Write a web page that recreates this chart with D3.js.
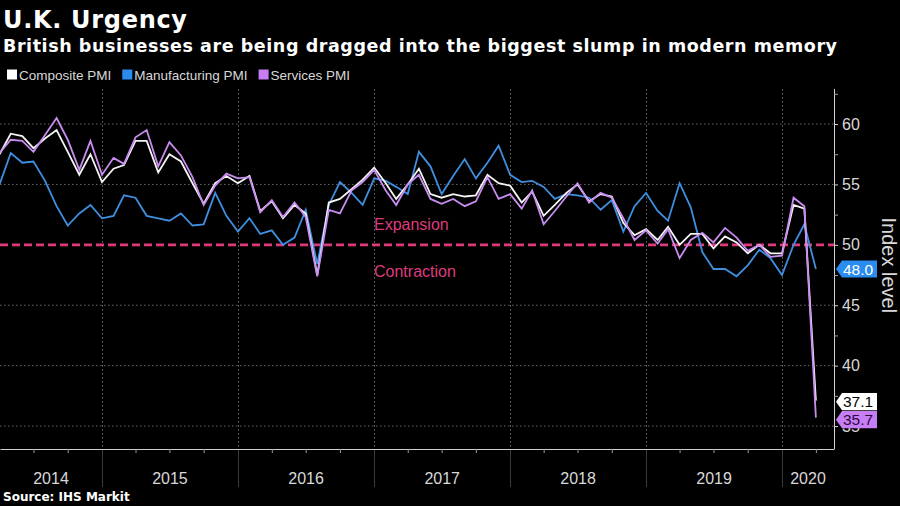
<!DOCTYPE html>
<html><head><meta charset="utf-8">
<script src="https://cdn.jsdelivr.net/npm/d3@7"></script>
<style>
html,body{margin:0;padding:0;background:#000;}
svg{display:block;}
</style></head><body>
<svg id="chart" width="900" height="506"></svg>
<script>
// ---------- DATA ----------
const firstMonth = new Date(2014, 2, 1);   // March 2014
const lastMonth  = new Date(2020, 2, 1);   // March 2020
const composite = [
  57.5, 59.2, 59.0, 58.0, 58.8, 59.5, 57.7, 55.8, 57.5, 55.2,
  56.3, 56.6, 58.6, 58.6, 56.0, 57.5, 56.9, 55.1, 53.4, 55.1,
  55.7, 55.1, 55.7, 52.8, 53.6, 52.2, 53.3, 52.6, 47.5, 53.5,
  53.8, 54.6, 55.4, 56.4, 55.1, 53.8, 55.0, 56.3, 54.2, 53.9,
  54.2, 54.0, 54.1, 55.8, 55.1, 54.9, 53.5, 54.4, 52.4, 53.3,
  54.3, 55.0, 53.6, 54.2, 54.0, 51.8, 50.8, 51.3, 50.4, 51.5,
  50.0, 50.9, 50.9, 49.7, 50.7, 50.2, 49.3, 50.0, 49.3, 49.3,
  53.3, 53.0, 37.1
];
const manufacturing = [
  55.0, 57.6, 56.8, 56.9, 55.3, 53.2, 51.6, 52.6, 53.3, 52.2,
  52.4, 54.1, 53.9, 52.4, 52.2, 52.0, 52.6, 51.6, 51.7, 54.3,
  52.4, 51.1, 52.2, 50.9, 51.2, 50.0, 50.6, 52.9, 48.4, 53.3,
  55.2, 54.3, 53.3, 55.5, 55.3, 54.8, 54.2, 57.7, 56.5, 54.2,
  55.7, 57.1, 55.5, 56.8, 58.2, 55.8, 55.2, 55.3, 54.8, 53.8,
  54.2, 54.1, 53.9, 52.9, 53.7, 51.1, 53.2, 54.3, 52.8, 52.0,
  55.1, 53.1, 49.4, 48.0, 48.0, 47.4, 48.3, 49.6, 48.9, 47.5,
  50.0, 51.7, 48.0
];
const services = [
  57.6, 58.7, 58.6, 57.7, 59.1, 60.5, 58.7, 56.2, 58.6, 55.8,
  57.2, 56.7, 58.9, 59.5, 56.5, 58.5, 57.4, 55.6, 53.3, 54.9,
  55.9, 55.5, 55.6, 52.7, 53.7, 52.3, 53.5, 52.3, 47.4, 52.9,
  52.6, 54.5, 55.2, 56.2, 54.5, 53.3, 55.0, 55.8, 53.8, 53.4,
  53.8, 53.2, 53.6, 55.6, 53.8, 54.2, 53.0, 54.5, 51.7, 52.8,
  54.0, 55.1, 53.5, 54.3, 53.9, 52.2, 50.4, 51.2, 50.1, 51.3,
  48.9, 50.4, 51.0, 50.2, 51.4, 50.6, 49.5, 50.0, 49.0, 49.1,
  53.9, 53.2, 35.7
];
const seriesNames = ["Composite PMI", "Manufacturing PMI", "Services PMI"];
const yearLabels = ["2014", "2015", "2016", "2017", "2018", "2019", "2020"];
const yMajorTicks = [35, 40, 45, 50, 55, 60];
const yMinorTicks = [37.5, 42.5, 47.5, 52.5, 57.5, 62.5];
const thresholdValue = 50;
const titleText = "U.K. Urgency";
const subtitleText = "British businesses are being dragged into the biggest slump in modern memory";
const sourceText = "Source: IHS Markit";
const yAxisTitle = "Index level";

// ---------- STYLE ----------
const colors = { composite: "#f4f4f4", manufacturing: "#3f8fe0", services: "#c98cf0" };
const legendColors = ["#ffffff", "#2b8cf0", "#c77ef5"];
const labelFill = ["#ffffff", "#2b8cf0", "#c77ef5"];
const labelText = ["#000000", "#ffffff", "#2b0a3d"];
const pink = "#de3b7d";

const svg = d3.select("#chart");
svg.append("rect").attr("width", 900).attr("height", 506).attr("fill", "#000");

const plotL = 0, plotR = 834, plotT = 89, plotB = 449;

const xRef = d3.scaleTime().domain([new Date(2015,0,1), new Date(2020,0,1)]).range([102, 782]);
const x = d3.scaleTime().domain([xRef.invert(plotL), xRef.invert(plotR)]).range([plotL, plotR]);
const y = d3.scaleLinear().domain([33.1, 62.9]).range([plotB, plotT]);

const months = d3.timeMonth.range(firstMonth, d3.timeMonth.offset(lastMonth, 1));
const pointDate = m => d3.timeMonth.offset(m, 1); // plotted at month end

// ---------- GRID ----------
const grid = svg.append("g");
grid.selectAll("line.h").data(yMajorTicks.filter(v => v !== thresholdValue)).join("line")
  .attr("x1", plotL).attr("x2", plotR)
  .attr("y1", d => y(d)).attr("y2", d => y(d))
  .attr("stroke", "#6a6a6a").attr("stroke-width", 1).attr("stroke-dasharray", "1.5,2.5");

const yearStarts = d3.timeYear.range(new Date(2015,0,1), new Date(2020,0,2));
grid.selectAll("line.v").data(yearStarts).join("line")
  .attr("x1", d => Math.round(x(d)) + 0.5).attr("x2", d => Math.round(x(d)) + 0.5)
  .attr("y1", plotT).attr("y2", plotB)
  .attr("stroke", "#6a6a6a").attr("stroke-width", 1).attr("stroke-dasharray", "1.5,2.5");
grid.selectAll("line.sep").data(yearStarts).join("line")
  .attr("x1", d => Math.round(x(d)) + 0.5).attr("x2", d => Math.round(x(d)) + 0.5)
  .attr("y1", plotB).attr("y2", 487)
  .attr("stroke", "#3a3a3a").attr("stroke-width", 1);

// ---------- THRESHOLD ----------
svg.append("line")
  .attr("x1", plotL).attr("x2", plotR)
  .attr("y1", y(thresholdValue)).attr("y2", y(thresholdValue))
  .attr("stroke", pink).attr("stroke-width", 2.8).attr("stroke-dasharray", "8,4");
svg.append("text").text("Expansion")
  .attr("x", 374).attr("y", y(thresholdValue) - 15)
  .attr("font-family", "Liberation Sans, Arial, sans-serif").attr("font-size", 16)
  .attr("fill", pink);
svg.append("text").text("Contraction")
  .attr("x", 374).attr("y", y(thresholdValue) + 32)
  .attr("font-family", "Liberation Sans, Arial, sans-serif").attr("font-size", 16)
  .attr("fill", pink);

// ---------- LINES ----------
const seriesData = [
  { key: "composite", values: composite },
  { key: "manufacturing", values: manufacturing },
  { key: "services", values: services }
];
const line = d3.line().x((d, i) => x(pointDate(months[i]))).y(d => y(d));
const drawOrder = [1, 0, 2];
drawOrder.forEach(k => {
  const s = seriesData[k];
  svg.append("path").datum(s.values)
    .attr("d", line)
    .attr("fill", "none")
    .attr("stroke", colors[s.key])
    .attr("stroke-width", 1.8)
    .attr("stroke-linejoin", "miter");
});

// ---------- X AXIS ----------
const quarterTicks = d3.timeMonth.every(3).range(x.domain()[0], x.domain()[1])
  .filter(d => d.getMonth() !== 0);
const xAxis = svg.append("g").attr("transform", `translate(0,${plotB})`)
  .call(d3.axisBottom(x).tickValues(quarterTicks).tickSize(4).tickSizeOuter(0).tickFormat(""));
xAxis.select(".domain").attr("stroke", "#d0d0d0").attr("stroke-width", 1);
xAxis.selectAll(".tick line").attr("stroke", "#9a9a9a");

const yearsG = svg.append("g");
yearLabels.forEach(lbl => {
  const yr = +lbl;
  const a = Math.max(x(new Date(yr,0,1)), plotL);
  const b = Math.min(x(new Date(yr+1,0,1)), plotR);
  yearsG.append("text").text(lbl)
    .attr("x", (a + b) / 2).attr("y", 484)
    .attr("text-anchor", "middle")
    .attr("font-family", "Liberation Sans, Arial, sans-serif").attr("font-size", 16)
    .attr("fill", "#d8d8d8");
});

// ---------- Y AXIS (right) ----------
const yAxis = svg.append("g").attr("transform", `translate(${plotR},0)`)
  .call(d3.axisRight(y).tickValues(yMajorTicks).tickSize(4).tickPadding(4).tickSizeOuter(0).tickFormat(d3.format("d")));
yAxis.select(".domain").attr("stroke", "#d0d0d0").attr("d", `M0.5,${plotT}V${plotB}`);
yAxis.selectAll(".tick line").attr("stroke", "#d0d0d0");
yAxis.selectAll(".tick text")
  .attr("font-family", "Liberation Sans, Arial, sans-serif").attr("font-size", 16)
  .attr("fill", "#d8d8d8");
const yMinor = svg.append("g").attr("transform", `translate(${plotR},0)`)
  .call(d3.axisRight(y).tickValues(yMinorTicks).tickSize(4).tickFormat(""));
yMinor.select(".domain").remove();
yMinor.selectAll(".tick line").attr("stroke", "#a0a0a0");

svg.append("text").text(yAxisTitle)
  .attr("transform", `translate(882,${y(48.3)}) rotate(90)`)
  .attr("text-anchor", "middle")
  .attr("font-family", "Liberation Sans, Arial, sans-serif").attr("font-size", 20)
  .attr("fill", "#d8d8d8");

// ---------- END LABELS ----------
const endVals = [composite, manufacturing, services].map((v, i) => ({ i, v: v[v.length - 1] }));
endVals.forEach(e => e.cy = y(e.v));
const sorted = endVals.slice().sort((a, b) => a.cy - b.cy);
const minGap = 18;
for (let k = 1; k < sorted.length; k++) {
  if (sorted[k].cy - sorted[k-1].cy < minGap) {
    const mid = (sorted[k].cy + sorted[k-1].cy) / 2 + 1.5;
    sorted[k-1].cy = mid - minGap / 2; sorted[k].cy = mid + minGap / 2;
  }
}
const lbx = 836;
endVals.forEach(e => {
  const h = 8.6, w = 41;
  svg.append("path")
    .attr("d", `M${lbx},${e.cy} L${lbx+6},${e.cy-h} L${lbx+w},${e.cy-h} L${lbx+w},${e.cy+h} L${lbx+6},${e.cy+h} Z`)
    .attr("fill", labelFill[e.i]);
  svg.append("text").text(d3.format(".1f")(e.v))
    .attr("x", lbx + 7).attr("y", e.cy + 5.5)
    .attr("font-family", "Liberation Sans, Arial, sans-serif").attr("font-size", 15.5)
    .attr("fill", labelText[e.i]);
});

// ---------- TITLES ----------
function fitSpacing(sel, target) {
  const len = sel.node().getComputedTextLength();
  const n = sel.text().length;
  sel.attr("letter-spacing", Math.max(0, (target - len) / (n - 1)));
}
const title = svg.append("text").text(titleText)
  .attr("x", 3).attr("y", 28)
  .attr("font-family", "DejaVu Sans, Verdana, sans-serif").attr("font-weight", "bold")
  .attr("font-size", 24).attr("fill", "#ffffff");
fitSpacing(title, 184);
const subtitle = svg.append("text").text(subtitleText)
  .attr("x", 3).attr("y", 52)
  .attr("font-family", "DejaVu Sans, Verdana, sans-serif").attr("font-weight", "bold")
  .attr("font-size", 17.5).attr("fill", "#ffffff");
fitSpacing(subtitle, 834);

// ---------- LEGEND ----------
const legend = svg.append("g").attr("transform", "translate(7,79)");
let lx = 0;
seriesNames.forEach((n, i) => {
  legend.append("rect").attr("x", lx).attr("y", -9.5).attr("width", 10).attr("height", 10).attr("fill", legendColors[i]);
  const t = legend.append("text").text(n)
    .attr("x", lx + 12).attr("y", 0.5)
    .attr("font-family", "Liberation Sans, Arial, sans-serif").attr("font-size", 13.5)
    .attr("fill", "#d8d8d8");
  lx += 12 + t.node().getComputedTextLength() + 11;
});

// ---------- SOURCE ----------
svg.append("text").text(sourceText)
  .attr("x", 3).attr("y", 501)
  .attr("font-family", "DejaVu Sans, Verdana, sans-serif").attr("font-weight", "bold")
  .attr("font-size", 12).attr("fill", "#ffffff");
</script>
</body></html>
